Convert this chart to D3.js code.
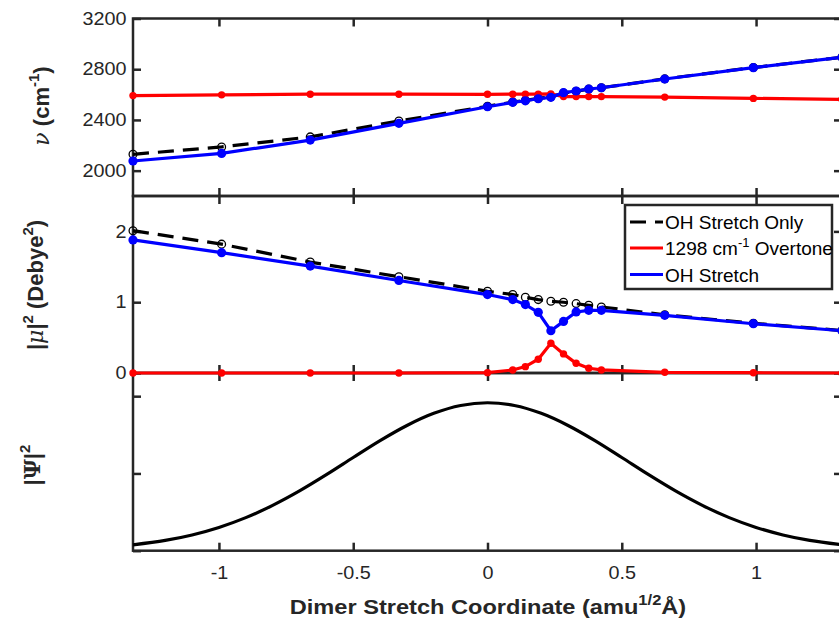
<!DOCTYPE html>
<html>
<head>
<meta charset="utf-8">
<script src="https://cdn.jsdelivr.net/npm/d3@7"></script>
<style>
  body { margin: 0; background: #fff; }
  svg { display: block; }
  text { font-family: "Liberation Sans", Arial, sans-serif; }
</style>
</head>
<body>
<div id="chart"></div>
<script>
// dimer stretch coordinate of the computed points
const coord = [-1.32, -0.99, -0.66, -0.33, 0, 0.094, 0.141, 0.189, 0.236, 0.283, 0.33, 0.377, 0.424, 0.66, 0.99, 1.32];

// frequencies (cm-1)
const freqOHOnly   = [2129, 2187, 2266, 2392, 2508, 2541, 2554, 2570, 2582, 2612, 2626, 2643, 2654, 2724, 2813, 2895];
const freqOvertone = [2592, 2598, 2603, 2603, 2602, 2603, 2603, 2603, 2605, 2584, 2584, 2584, 2584, 2580, 2570, 2562];
const freqOH       = [2076, 2136, 2241, 2373, 2504, 2539, 2551, 2567, 2578, 2615, 2628, 2644, 2654, 2723, 2812, 2894];

// |mu|^2 (Debye^2)
const dipOHOnly   = [2.01, 1.82, 1.567, 1.36, 1.155, 1.108, 1.07, 1.037, 1.013, 0.999, 0.98, 0.956, 0.933, 0.822, 0.703, 0.60];
const dipOvertone = [0.0, 0.0, 0.0, 0.0, 0.005, 0.043, 0.09, 0.195, 0.42, 0.27, 0.138, 0.067, 0.043, 0.01, 0.004, 0.0];
const dipOH       = [1.88, 1.70, 1.51, 1.307, 1.108, 1.037, 0.966, 0.857, 0.597, 0.729, 0.862, 0.885, 0.885, 0.814, 0.696, 0.597];

// ground state |Psi|^2 (arbitrary units)
const psiX = [-1.32, -1.2, -1.1, -1.0, -0.9, -0.8, -0.7, -0.6, -0.5, -0.4, -0.3, -0.2, -0.1, 0, 0.1, 0.2, 0.3, 0.4, 0.5, 0.6, 0.7, 0.8, 0.9, 1.0, 1.1, 1.2, 1.32];
const psiY = [0.076, 0.133, 0.204, 0.301, 0.428, 0.587, 0.774, 0.984, 1.206, 1.425, 1.621, 1.778, 1.880, 1.915, 1.880, 1.778, 1.621, 1.425, 1.206, 0.984, 0.774, 0.587, 0.428, 0.301, 0.204, 0.133, 0.076];

const xTicks = [-1, -0.5, 0, 0.5, 1];

const W = 839, H = 620;
const axisColor = '#262626';

const svg = d3.select('#chart').append('svg')
    .attr('width', W)
    .attr('height', H);

const x = d3.scaleLinear().domain([-1.32, 1.32]).range([133, 842]);

const yFreq = d3.scaleLinear().domain([1800, 3200]).range([196, 18.5]);
const yDip  = d3.scaleLinear().domain([0, 2.5]).range([373, 196]);
const yPsi  = d3.scaleLinear().domain([0, 2.3]).range([550.7, 373]);

// box with inward ticks on all four sides
const drawFrame = (y, yTicks, yLabels, xLabels) => {
    const g = svg.append('g');
    const top = y.range()[1], bottom = y.range()[0];

    const left = g.append('g')
        .attr('transform', `translate(${x.range()[0]},0)`)
        .call(d3.axisLeft(y).tickValues(yTicks).tickSizeInner(-8).tickSizeOuter(0)
            .tickPadding(6).tickFormat(yLabels ? d3.format('d') : ''));
    const right = g.append('g')
        .attr('transform', `translate(${x.range()[1]},0)`)
        .call(d3.axisRight(y).tickValues(yTicks).tickSizeInner(-8).tickSizeOuter(0).tickFormat(''));
    const topAx = g.append('g')
        .attr('transform', `translate(0,${top})`)
        .call(d3.axisTop(x).tickValues(xTicks).tickSizeInner(-8).tickSizeOuter(0).tickFormat(''));
    const bottomAx = g.append('g')
        .attr('transform', `translate(0,${bottom})`)
        .call(d3.axisBottom(x).tickValues(xTicks).tickSizeInner(-8).tickSizeOuter(0)
            .tickPadding(16).tickFormat(xLabels ? (d => String(d)) : ''));

    [left, right, topAx, bottomAx].forEach(a => {
        a.select('.domain').remove();
        a.selectAll('line').attr('stroke', axisColor).attr('stroke-width', 2.5);
        a.selectAll('text')
            .attr('fill', axisColor)
            .style('font-size', '18px')
            .attr('transform', 'scale(1.1,1)');
    });

    g.append('rect')
        .attr('x', x.range()[0])
        .attr('y', top)
        .attr('width', x.range()[1] - x.range()[0])
        .attr('height', bottom - top)
        .attr('fill', 'none')
        .attr('stroke', axisColor)
        .attr('stroke-width', 2.5);
};

drawFrame(yFreq, [2000, 2400, 2800, 3200], true, false);
drawFrame(yDip, [0, 1, 2], true, false);
drawFrame(yPsi, [0, 1, 2], false, true);

// one series: line + markers
const drawSeries = (y, values, opts) => {
    const pts = coord.map((c, i) => [c, values[i]]);
    const line = d3.line().x(d => x(d[0])).y(d => y(d[1]));
    svg.append('path')
        .datum(pts)
        .attr('d', line)
        .attr('fill', 'none')
        .attr('stroke', opts.color)
        .attr('stroke-width', 3.2)
        .attr('stroke-dasharray', opts.dash || null);
    svg.append('g')
        .selectAll('circle')
        .data(pts)
        .enter().append('circle')
        .attr('cx', d => x(d[0]))
        .attr('cy', d => y(d[1]))
        .attr('r', opts.r)
        .attr('fill', opts.open ? 'none' : opts.color)
        .attr('stroke', opts.color)
        .attr('stroke-width', opts.open ? 1.3 : 0);
};

const sOnly = { color: '#000', dash: '16,9', r: 3.9, open: true };
const sOver = { color: '#ff0000', r: 3.7 };
const sOH   = { color: '#0000ff', r: 4.6 };

drawSeries(yFreq, freqOHOnly, sOnly);
drawSeries(yFreq, freqOvertone, sOver);
drawSeries(yFreq, freqOH, sOH);

drawSeries(yDip, dipOHOnly, sOnly);
drawSeries(yDip, dipOvertone, sOver);
drawSeries(yDip, dipOH, sOH);

// wavefunction
svg.append('path')
    .datum(psiX.map((c, i) => [c, psiY[i]]))
    .attr('d', d3.line().x(d => x(d[0])).y(d => yPsi(d[1])).curve(d3.curveCatmullRom))
    .attr('fill', 'none')
    .attr('stroke', '#000')
    .attr('stroke-width', 3.2);

// legend
const legend = svg.append('g');
legend.append('rect')
    .attr('x', 625).attr('y', 205)
    .attr('width', 207).attr('height', 84)
    .attr('fill', '#fff')
    .attr('stroke', axisColor)
    .attr('stroke-width', 2.5);

const legendRows = [
    { y: 222, style: sOnly, parts: [{ text: 'OH Stretch Only' }] },
    { y: 248, style: sOver, parts: [{ text: '1298 cm' }, { text: '-1', sup: true }, { text: ' Overtone', down: true }] },
    { y: 274.5, style: sOH, parts: [{ text: 'OH Stretch' }] }
];
legendRows.forEach(row => {
    legend.append('line')
        .attr('x1', 630).attr('x2', 663)
        .attr('y1', row.y).attr('y2', row.y)
        .attr('stroke', row.style.color)
        .attr('stroke-width', 3.2)
        .attr('stroke-dasharray', row.style.dash || null);
    const t = legend.append('text')
        .attr('x', 665)
        .attr('y', row.y + 7)
        .style('font-size', '19px')
        .attr('fill', '#000');
    row.parts.forEach(p => {
        const s = t.append('tspan').text(p.text);
        if (p.sup) s.attr('dy', -8).style('font-size', '13px');
        if (p.down) s.attr('dy', 8);
    });
});

// axis titles
const title = (tx, ty, rot, size, parts, scaleX) => {
    const t = svg.append('text')
        .attr('transform', `translate(${tx},${ty}) rotate(${rot})` + (scaleX ? ` scale(${scaleX},1)` : ''))
        .attr('text-anchor', 'middle')
        .style('font-size', size + 'px')
        .style('font-weight', 'bold')
        .attr('fill', axisColor);
    parts.forEach(p => {
        const s = t.append('tspan').text(p.text);
        if (p.serif) s.style('font-family', '"DejaVu Serif", serif').style('font-style', 'italic').style('font-weight', 'normal');
        if (p.greek) s.style('font-family', '"DejaVu Serif", serif');
        if (p.sup) s.attr('dy', -size * 0.45).style('font-size', Math.round(size * 0.7) + 'px');
        if (p.down) s.attr('dy', size * 0.45);
    });
};

title(49, 106, -90, 22, [
    { text: 'ν', serif: true },
    { text: ' (cm' },
    { text: '-1', sup: true },
    { text: ')', down: true }
]);

title(43, 285, -90, 22, [
    { text: '|' },
    { text: 'μ', serif: true },
    { text: '|' },
    { text: '2', sup: true },
    { text: ' (Debye', down: true },
    { text: '2', sup: true },
    { text: ')', down: true }
]);

title(40, 465, -90, 22, [
    { text: '|' },
    { text: 'Ψ', greek: true },
    { text: '|' },
    { text: '2', sup: true }
]);

title(488, 614, 0, 20, [
    { text: 'Dimer Stretch Coordinate (amu' },
    { text: '1/2', sup: true },
    { text: 'Å)', down: true }
], 1.18);
</script>
</body>
</html>
